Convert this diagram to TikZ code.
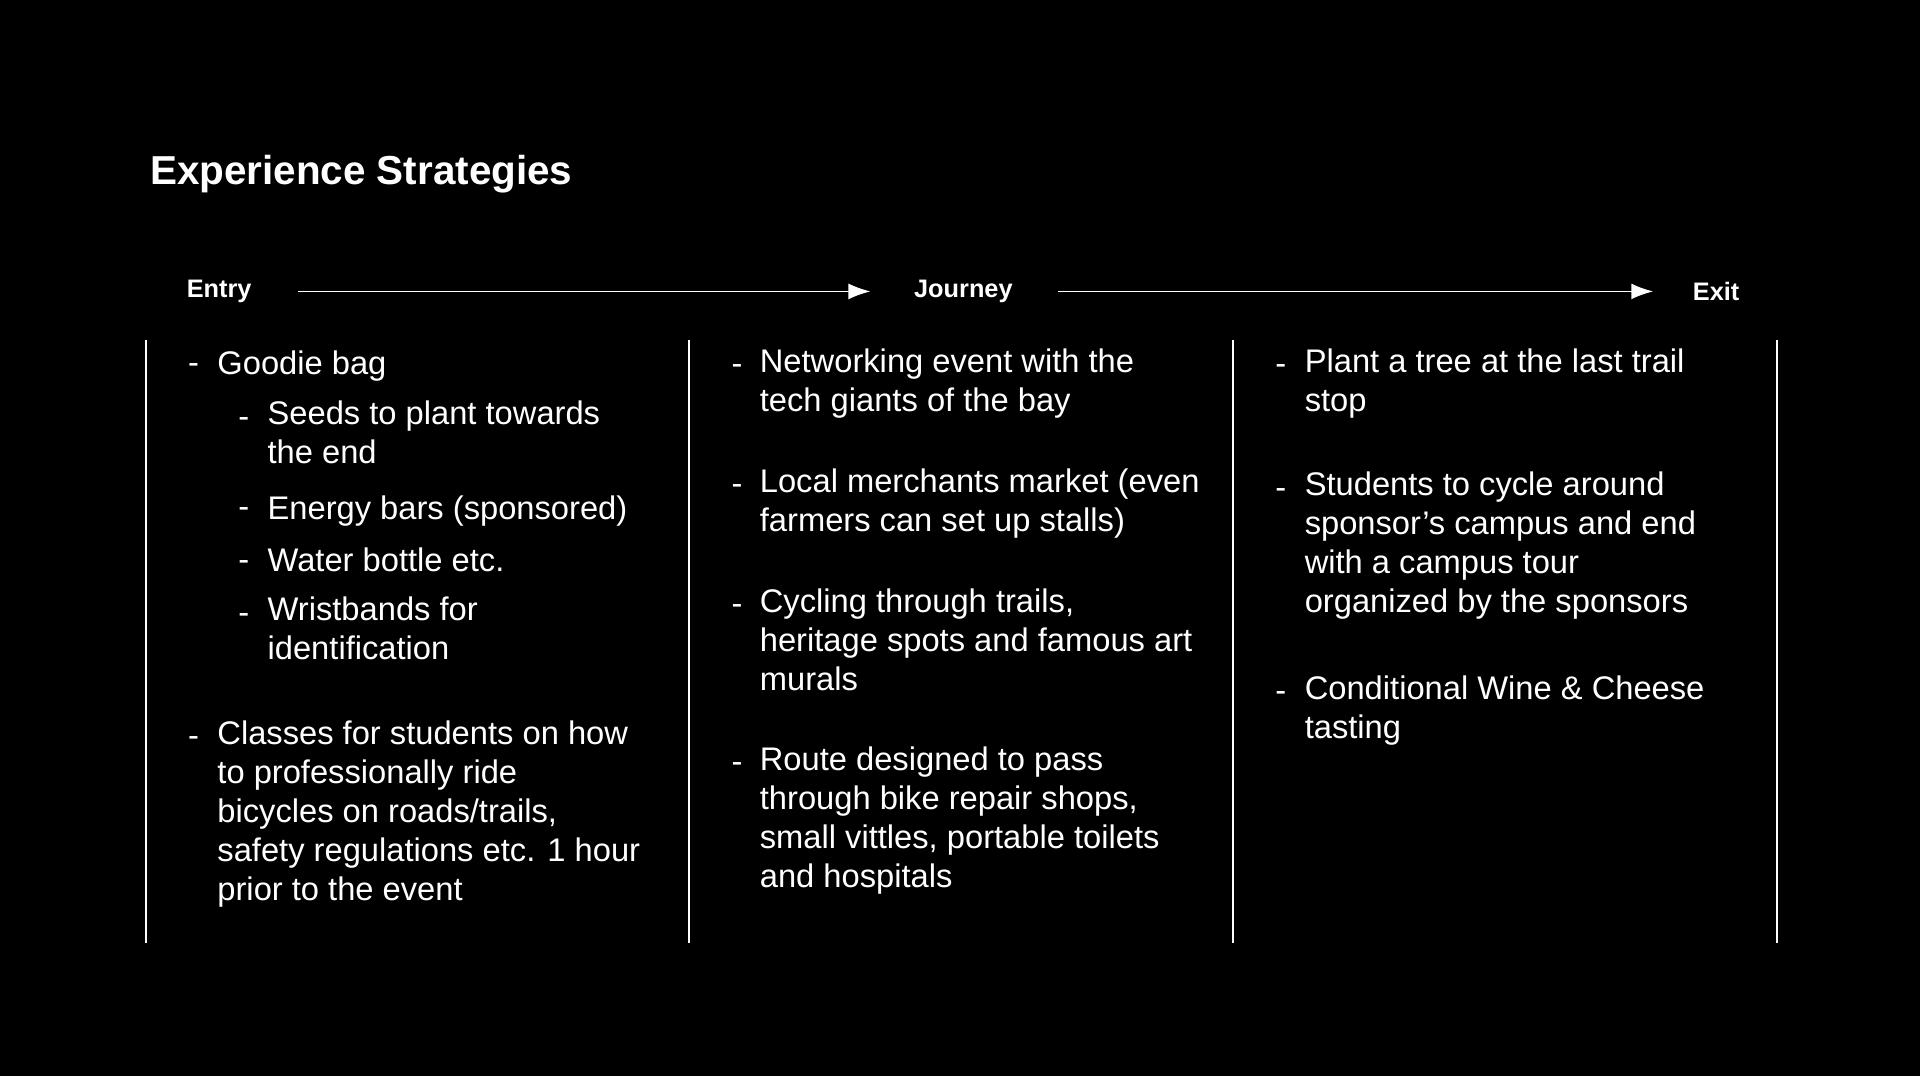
\documentclass[tikz,border=0pt]{standalone}
\usepackage{fontspec}
\setmainfont{Liberation Sans}
\usetikzlibrary{arrows.meta}
\begin{document}
\begin{tikzpicture}[
x=0.12245mm, y=-0.12245mm,
>={Latex[length=2.2mm,width=1.6mm]},
stage/.style={inner sep=0pt, text=white, font=\fontsize{7.2}{8}\selectfont\bfseries},
flow/.style={draw=white, line width=0.5pt, ->},
sep/.style={draw=white, line width=0.6pt},
item/.style={anchor=north west, inner sep=0pt, text=white, align=left,
  font=\fontsize{9.3}{11.1}\selectfont, execute at begin node=\strut},
bullet/.style={anchor=base west, inner sep=0pt, text=white, font=\fontsize{9.3}{11.1}\selectfont}
]
\fill[black] (0,0) rectangle (1568,879);

\node[anchor=base west, inner sep=0pt, text=white, font=\fontsize{11.5}{13}\selectfont\bfseries] (title) at (122,151) {Experience Strategies};

\node[stage, anchor=west] (entry) at (152,238) {Entry};
\node[stage, anchor=west] (journey) at (746,238) {Journey};
\node[stage, anchor=west] (exit) at (1382,238) {Exit};
\path[flow, shorten <=4.6mm, shorten >=4.3mm] (entry) -- (journey);
\path[flow, shorten <=4.5mm, shorten >=3.9mm] (journey) -- (exit);

%separators
\foreach \x/\n in {119/a,563/b,1007/c,1451/d}{
  \coordinate (top\n) at (\x,278);
  \coordinate (bot\n) at (\x,770);
  \path[sep] (top\n) -- (bot\n);
}

%entry column
\foreach \y in {305,610}{ \node[bullet] at (153,\y) {-}; }
\foreach \y in {349,423,466,509}{ \node[bullet] at (194,\y) {-}; }
\node[item] (goodie) at (177,283) {Goodie bag};
\node[item] (seeds) at (218,327) {Seeds to plant towards\\the end};
\node[item] (bars) at (218,401) {Energy bars (sponsored)};
\node[item] (bottle) at (218,444) {Water bottle etc.};
\node[item] (bands) at (218,487) {Wristbands for\\identification};
\node[item] (classes) at (177,588) {Classes for students on how\\to professionally ride\\bicycles on roads/trails,\\safety regulations etc. 1 hour\\prior to the event};

%journey column
\foreach \y in {306,404,502,631}{ \node[bullet] at (597,\y) {-}; }
\node[item] (network) at (620,284) {Networking event with the\\tech giants of the bay};
\node[item] (market) at (620,382) {Local merchants market (even\\farmers can set up stalls)};
\node[item] (cycling) at (620,480) {Cycling through trails,\\heritage spots and famous art\\murals};
\node[item] (route) at (620,609) {Route designed to pass\\through bike repair shops,\\small vittles, portable toilets\\and hospitals};

%exit column
\foreach \y in {306,407,573}{ \node[bullet] at (1041,\y) {-}; }
\node[item] (tree) at (1065,284) {Plant a tree at the last trail\\stop};
\node[item] (campus) at (1065,385) {Students to cycle around\\sponsor’s campus and end\\with a campus tour\\organized by the sponsors};
\node[item] (wine) at (1065,551) {Conditional Wine \& Cheese\\tasting};
\end{tikzpicture}
\end{document}
